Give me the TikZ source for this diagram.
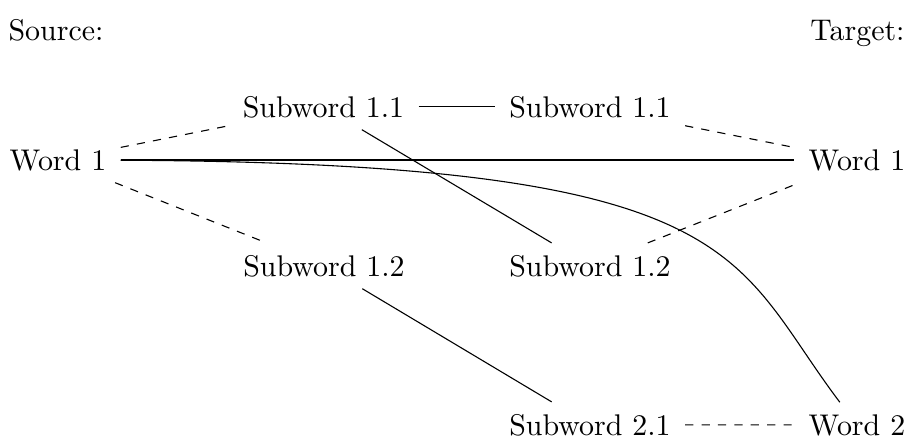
\documentclass[11pt,tikz,border=0pt]{standalone}
\begin{document}
\begin{tikzpicture}[x=0.366pt,y=-0.366pt,
  word/.style={anchor=base,inner xsep=5.1pt,inner ysep=4.2pt},
  hdr/.style={inner sep=0pt},
  link/.style={draw,line width=0.4pt},
  weak/.style={draw,dashed,line width=0.4pt}]
\useasboundingbox (0,0) rectangle (907,440);
\node[hdr,anchor=base west] (src) at (8,40) {Source:};
\node[hdr,anchor=base east] (tgt) at (905,40) {Target:};
\node[word] (w1L) at (58,170) {Word 1};
\node[word] (s11L) at (323.5,117) {Subword 1.1};
\node[word] (s12L) at (324,276) {Subword 1.2};
\node[word] (s11R) at (590,117) {Subword 1.1};
\node[word] (s12R) at (590,276) {Subword 1.2};
\node[word] (s21) at (590,435) {Subword 2.1};
\node[word] (w1R) at (857,170) {Word 1};
\node[word] (w2) at (857,435) {Word 2};
\coordinate (c1) at (750,163);
\coordinate (c2) at (730,257);
\draw[weak] (w1L) -- (s11L);
\draw[weak] (w1L) -- (s12L);
\draw[link] (s11L) -- (s11R);
\draw[link] (s11L) -- (s12R);
\draw[link] (w1L) -- (w1R);
\draw[link] (w1L) .. controls (c1) and (c2) .. (w2);
\draw[weak] (s11R) -- (w1R);
\draw[weak] (s12R) -- (w1R);
\draw[link] (s12L) -- (s21);
\draw[weak] (s21) -- (w2);
\end{tikzpicture}
\end{document}
